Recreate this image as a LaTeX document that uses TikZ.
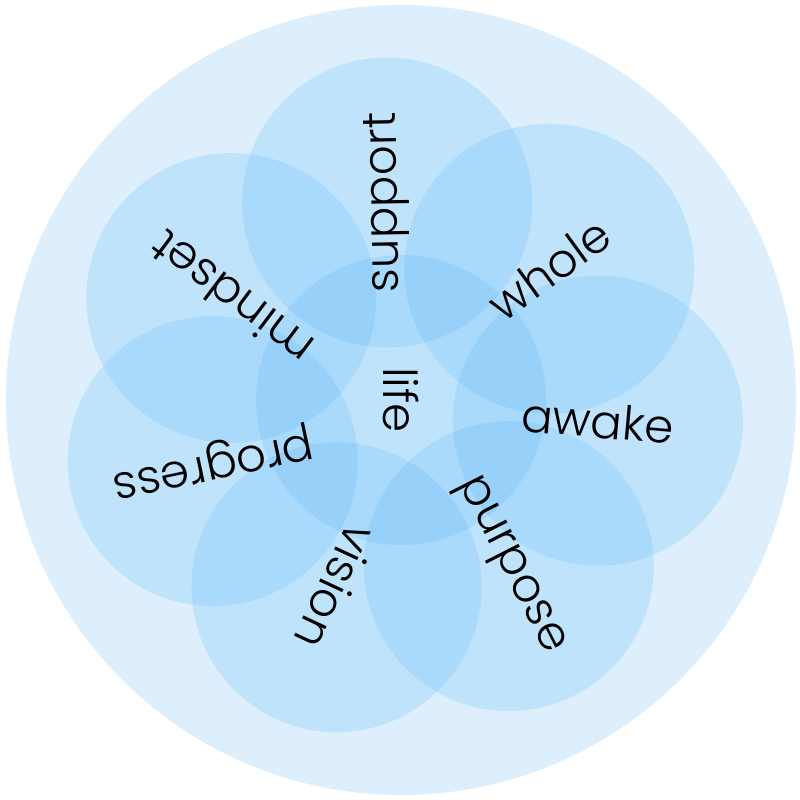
\documentclass[tikz,border=0pt]{standalone}
\usepackage{fontspec}
\setmainfont{Poppins Light}
\usetikzlibrary{calc}
\definecolor{outerblue}{RGB}{221,239,253}
\definecolor{petalblue}{RGB}{90,185,250}
\tikzset{
	petal/.style={circle,minimum size=2.9cm,inner sep=0pt,fill=petalblue,fill opacity=0.22},
	word/.style={font=\fontsize{13.3}{16}\selectfont,text=black,inner sep=0pt}
}
\begin{document}
\begin{tikzpicture}
	\useasboundingbox (0,0) rectangle (8,8);
	\fill[outerblue] (4.01,4) circle (3.95);
	\coordinate (o) at (4.01,4);
	\node[petal] (plife) at (o) {};
	\foreach \a/\t in {94/support,41.5/whole,-6/awake,-57/purpose,-109/vision,198/progress,149/mindset}
		\node[petal] (p\t) at ($(o)+(\a:1.98)$) {};
	\node[word,rotate=-90] (life) at (plife) {life};
	\foreach \r/\t in {91/support,36/whole,-5/awake,-63/purpose,-115/vision,192/progress,143/mindset}
		\node[word,rotate=\r] (\t) at (p\t) {\t};
\end{tikzpicture}
\end{document}
